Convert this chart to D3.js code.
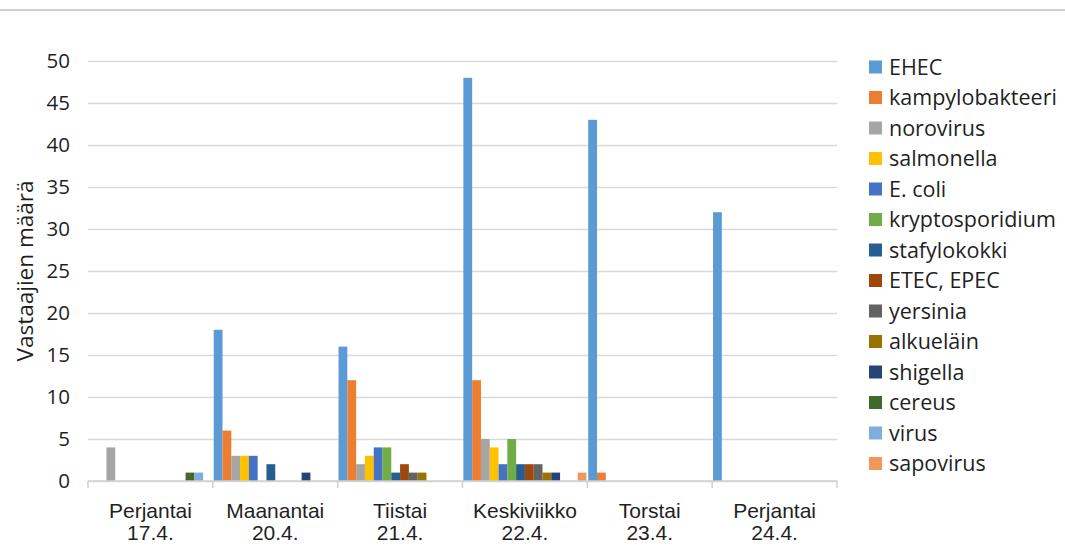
<!doctype html>
<html lang="fi">
<head>
  <meta charset="utf-8">
  <title>Vastaajien määrä</title>
  <style>
    * { margin: 0; padding: 0; box-sizing: border-box; }
    body { background: #fff; }
    svg { display: block; font-family: "Open Sans", sans-serif; }
  </style>
</head>
<body>
  <div class="chart"></div>
  <script src="https://cdn.jsdelivr.net/npm/d3@7"></script>
  <script>
    // ---------------------------------------------------------------
    //@@ data
    const days = ['Perjantai', 'Maanantai', 'Tiistai', 'Keskiviikko', 'Torstai', 'Perjantai'];
    const dates = ['17.4.', '20.4.', '21.4.', '22.4.', '23.4.', '24.4.'];
    const series = ['EHEC', 'kampylobakteeri', 'norovirus', 'salmonella', 'E. coli',
      'kryptosporidium', 'stafylokokki', 'ETEC, EPEC', 'yersinia', 'alkueläin',
      'shigella', 'cereus', 'virus', 'sapovirus'];
    const colors = ['#5b9bd5', '#ed7d31', '#a5a5a5', '#ffc000', '#4472c4', '#70ad47',
      '#255e91', '#9e480e', '#636363', '#997300', '#264478', '#43682b', '#7cafdd', '#f1975a'];

    // one row per series, one value per day
    const EHEC            = [0, 18, 16, 48, 43, 32];
    const kampylobakteeri = [0, 6, 12, 12, 1, 0];
    const norovirus       = [4, 3, 2, 5, 0, 0];
    const salmonella      = [0, 3, 3, 4, 0, 0];
    const eColi           = [0, 3, 4, 2, 0, 0];
    const kryptosporidium = [0, 0, 4, 5, 0, 0];
    const stafylokokki    = [0, 2, 1, 2, 0, 0];
    const etecEpec        = [0, 0, 2, 2, 0, 0];
    const yersinia        = [0, 0, 1, 2, 0, 0];
    const alkuelain       = [0, 0, 1, 1, 0, 0];
    const shigella        = [0, 1, 0, 1, 0, 0];
    const cereus          = [1, 0, 0, 0, 0, 0];
    const virus           = [1, 0, 0, 0, 0, 0];
    const sapovirus       = [0, 0, 0, 1, 0, 0];
    const values = [EHEC, kampylobakteeri, norovirus, salmonella, eColi, kryptosporidium,
      stafylokokki, etecEpec, yersinia, alkuelain, shigella, cereus, virus, sapovirus];

    const yTicks = [0, 5, 10, 15, 20, 25, 30, 35, 40, 45, 50];
    const yTitle = 'Vastaajien määrä';

    // ---------------------------------------------------------------
    //@@ svg
    const W = 1065, H = 548;
    const plot = {l: 88, r: 837, t: 61, b: 481};
    const textColor = '#1f1f1f';

    const svg = d3.select('.chart').append('svg')
      .attr('width', W)
      .attr('height', H);

    // thin frame line at the very top
    svg.append('line')
      .attr('x1', 0).attr('x2', W)
      .attr('y1', 10).attr('y2', 10)
      .attr('stroke', '#cfcfcf')
      .attr('stroke-width', 2);

    //@@ scales
    const groupKeys = d3.range(days.length);
    const x0 = d3.scaleBand().domain(groupKeys).range([plot.l, plot.r]);
    const x1 = d3.scaleBand().domain(series)
      .range([0, x0.bandwidth()])
      .paddingInner(0)
      .paddingOuter(0.1);
    const y = d3.scaleLinear().domain([0, 50]).range([plot.b, plot.t]);

    //@@ gridlines + y labels
    const axisY = d3.axisLeft(y)
      .tickValues(yTicks)
      .tickSize(-(plot.r - plot.l))
      .tickPadding(18);
    const gy = svg.append('g')
      .attr('transform', `translate(${plot.l},0)`)
      .call(axisY);
    gy.select('.domain').remove();
    gy.selectAll('.tick line')
      .attr('stroke', '#d9d9d9')
      .attr('stroke-width', 1.5);
    gy.selectAll('.tick text')
      .attr('fill', textColor)
      .style('font-size', '20.5px')
      .style('font-family', '"Open Sans", sans-serif');

    //@@ bars
    const groups = svg.append('g').selectAll('g')
      .data(groupKeys)
      .join('g')
      .attr('transform', d => `translate(${x0(d)},0)`);

    groups.selectAll('rect')
      .data(g => series.map((s, i) => ({s, i, v: values[i][g]})).filter(d => d.v > 0))
      .join('rect')
      .attr('x', d => x1(d.s))
      .attr('width', x1.bandwidth())
      .attr('y', d => y(d.v))
      .attr('height', d => y(0) - y(d.v))
      .attr('fill', d => colors[d.i]);

    //@@ x axis
    const axisX = d3.axisBottom(x0).tickSize(0).tickFormat('');
    const gx = svg.append('g')
      .attr('transform', `translate(0,${plot.b})`)
      .call(axisX);
    gx.select('.domain')
      .attr('stroke', '#d0d0d0')
      .attr('stroke-width', 1.5)
      .attr('d', `M${plot.l},0H${plot.r}`);

    // group boundary ticks
    const bounds = groupKeys.map(k => x0(k)).concat([plot.r]);
    gx.selectAll('line.sep')
      .data(bounds)
      .join('line')
      .attr('class', 'sep')
      .attr('x1', d => d).attr('x2', d => d)
      .attr('y1', 0).attr('y2', 7)
      .attr('stroke', '#d0d0d0')
      .attr('stroke-width', 1.5);

    // two-line category labels
    const labels = gx.selectAll('text.cat')
      .data(groupKeys)
      .join('text')
      .attr('class', 'cat')
      .attr('x', d => x0(d) + x0.bandwidth() / 2)
      .attr('text-anchor', 'middle')
      .attr('fill', textColor)
      .style('font-size', '21px');
    labels.append('tspan')
      .attr('x', d => x0(d) + x0.bandwidth() / 2)
      .attr('y', 37)
      .text(d => days[d]);
    labels.append('tspan')
      .attr('x', d => x0(d) + x0.bandwidth() / 2)
      .attr('y', 59)
      .text(d => dates[d]);

    //@@ y title
    svg.append('text')
      .attr('transform', `translate(33,${(plot.t + plot.b) / 2}) rotate(-90)`)
      .attr('text-anchor', 'middle')
      .attr('fill', textColor)
      .style('font-size', '22.5px')
      .text(yTitle);

    //@@ legend
    const legend = svg.append('g')
      .attr('transform', 'translate(869,67)');
    const item = legend.selectAll('g')
      .data(series)
      .join('g')
      .attr('transform', (d, i) => `translate(0,${i * 30.5})`);
    item.append('rect')
      .attr('x', 0).attr('y', -6.5)
      .attr('width', 13).attr('height', 13)
      .attr('fill', (d, i) => colors[i]);
    item.append('text')
      .attr('x', 20)
      .attr('dy', '0.35em')
      .attr('fill', textColor)
      .style('font-size', '21.5px')
      .text(d => d);
  </script>
</body>
</html>
